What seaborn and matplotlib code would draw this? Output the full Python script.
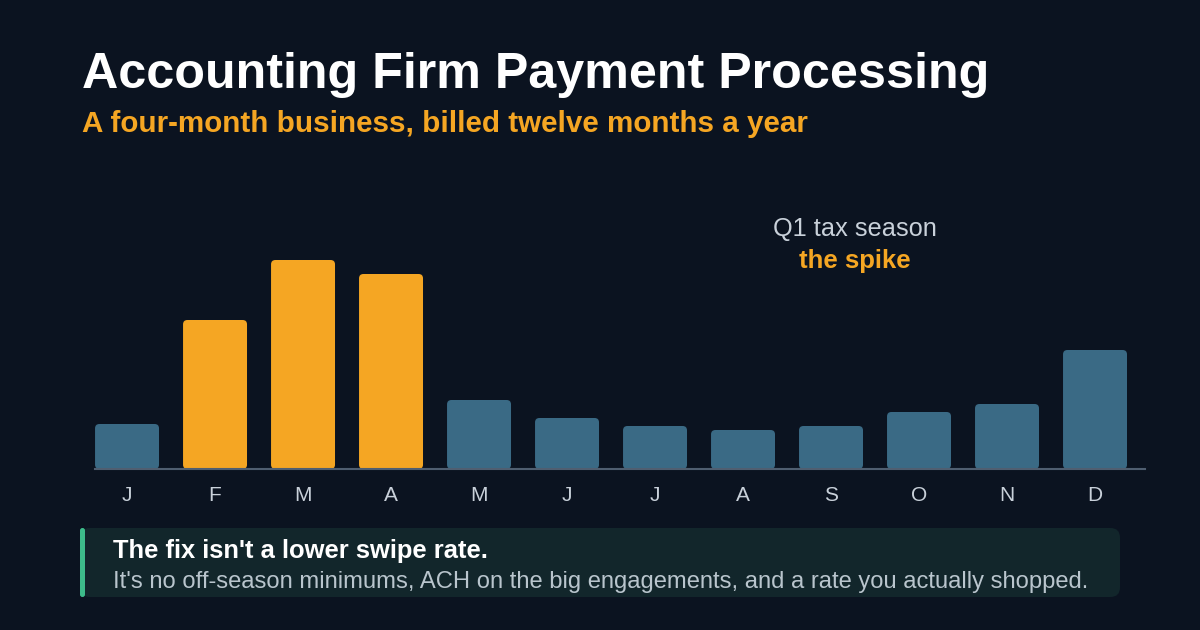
import matplotlib
matplotlib.use("Agg")
import matplotlib.pyplot as plt
import seaborn as sns
import pandas as pd
from matplotlib.patches import FancyBboxPatch

# monthly payment volume (relative)
months = ["J", "F", "M", "A", "M", "J", "J", "A", "S", "O", "N", "D"]
volume = [45, 149, 209, 195, 69, 51, 43, 39, 43, 57, 65, 119]
spike = [False, True, True, True, False, False, False, False, False, False, False, False]

title = "Accounting Firm Payment Processing"
subtitle = "A four-month business, billed twelve months a year"
note_top = "Q1 tax season"
note_bottom = "the spike"
callout_head = "The fix isn't a lower swipe rate."
callout_body = "It's no off-season minimums, ACH on the big engagements, and a rate you actually shopped."

BG = "#0b1320"
ORANGE = "#f5a623"
BLUE = "#3a6a85"
GREY = "#c9d1da"

sns.set_theme(style="dark")
plt.rcParams["font.family"] = ["Liberation Sans", "DejaVu Sans"]

df = pd.DataFrame({"idx": range(len(months)), "month": months, "volume": volume,
                   "group": ["spike" if s else "rest" for s in spike]})

fig = plt.figure(figsize=(12, 6.3), dpi=100, facecolor=BG)
ax = fig.add_axes([95 / 1200, (630 - 469) / 630, (1145 - 95) / 1200, 240 / 630])
ax.set_facecolor(BG)

sns.barplot(data=df, x="idx", y="volume", hue="group", palette={"spike": ORANGE, "rest": BLUE},
            dodge=False, width=0.727, legend=False, ax=ax, saturation=1)

ax.set_xlim(-0.364, 11.568)
ax.set_ylim(0, 240)

# swap the plain rectangles for rounded ones
for p in list(ax.patches):
    x, y = p.get_x(), p.get_y()
    w, h = p.get_width(), p.get_height()
    if h <= 0:
        continue
    fc = p.get_facecolor()
    p.remove()
    ax.add_patch(FancyBboxPatch((x, y), w, h, boxstyle="round,pad=0,rounding_size=0.05",
                                mutation_aspect=88, facecolor=fc, edgecolor="none", zorder=2))

ax.set_xticks(range(len(months)))
ax.set_xticklabels(months, color=GREY, fontsize=15)
ax.tick_params(axis="x", length=0, pad=12)
ax.set_yticks([])
ax.set_xlabel("")
ax.set_ylabel("")
for s in ["top", "right", "left"]:
    ax.spines[s].set_visible(False)
ax.spines["bottom"].set_color("#4f5e70")
ax.spines["bottom"].set_linewidth(1.5)
ax.spines["bottom"].set_zorder(3)
ax.grid(False)

fig.text(82 / 1200, 1 - 75 / 630, title, color="white", fontsize=36.2, fontweight="bold", va="center")
fig.text(82 / 1200, 1 - 124 / 630, subtitle, color=ORANGE, fontsize=21.3, fontweight="bold", va="center")

fig.text(855 / 1200, 1 - 229 / 630, note_top, color=GREY, fontsize=18.3, ha="center", va="center")
fig.text(855 / 1200, 1 - 261 / 630, note_bottom, color=ORANGE, fontsize=18.5, fontweight="bold",
         ha="center", va="center")

# callout box
box = FancyBboxPatch((80 / 1200, 1 - 597 / 630), 1040 / 1200, 69 / 630,
                     boxstyle="round,pad=0,rounding_size=0.008", mutation_aspect=1200 / 630,
                     transform=fig.transFigure, facecolor="#12262b", edgecolor="none")
fig.patches.append(box)
bar = FancyBboxPatch((80 / 1200, 1 - 597 / 630), 5 / 1200, 69 / 630,
                     boxstyle="round,pad=0,rounding_size=0.002", mutation_aspect=1200 / 630,
                     transform=fig.transFigure, facecolor="#3dbb8a", edgecolor="none")
fig.patches.append(bar)
fig.text(113 / 1200, 1 - 551 / 630, callout_head, color="white", fontsize=18.4, fontweight="bold", va="center")
fig.text(113 / 1200, 1 - 582 / 630, callout_body, color="#b9c5cd", fontsize=17.1, va="center")

fig.savefig("out.png", dpi=100, facecolor=BG)
